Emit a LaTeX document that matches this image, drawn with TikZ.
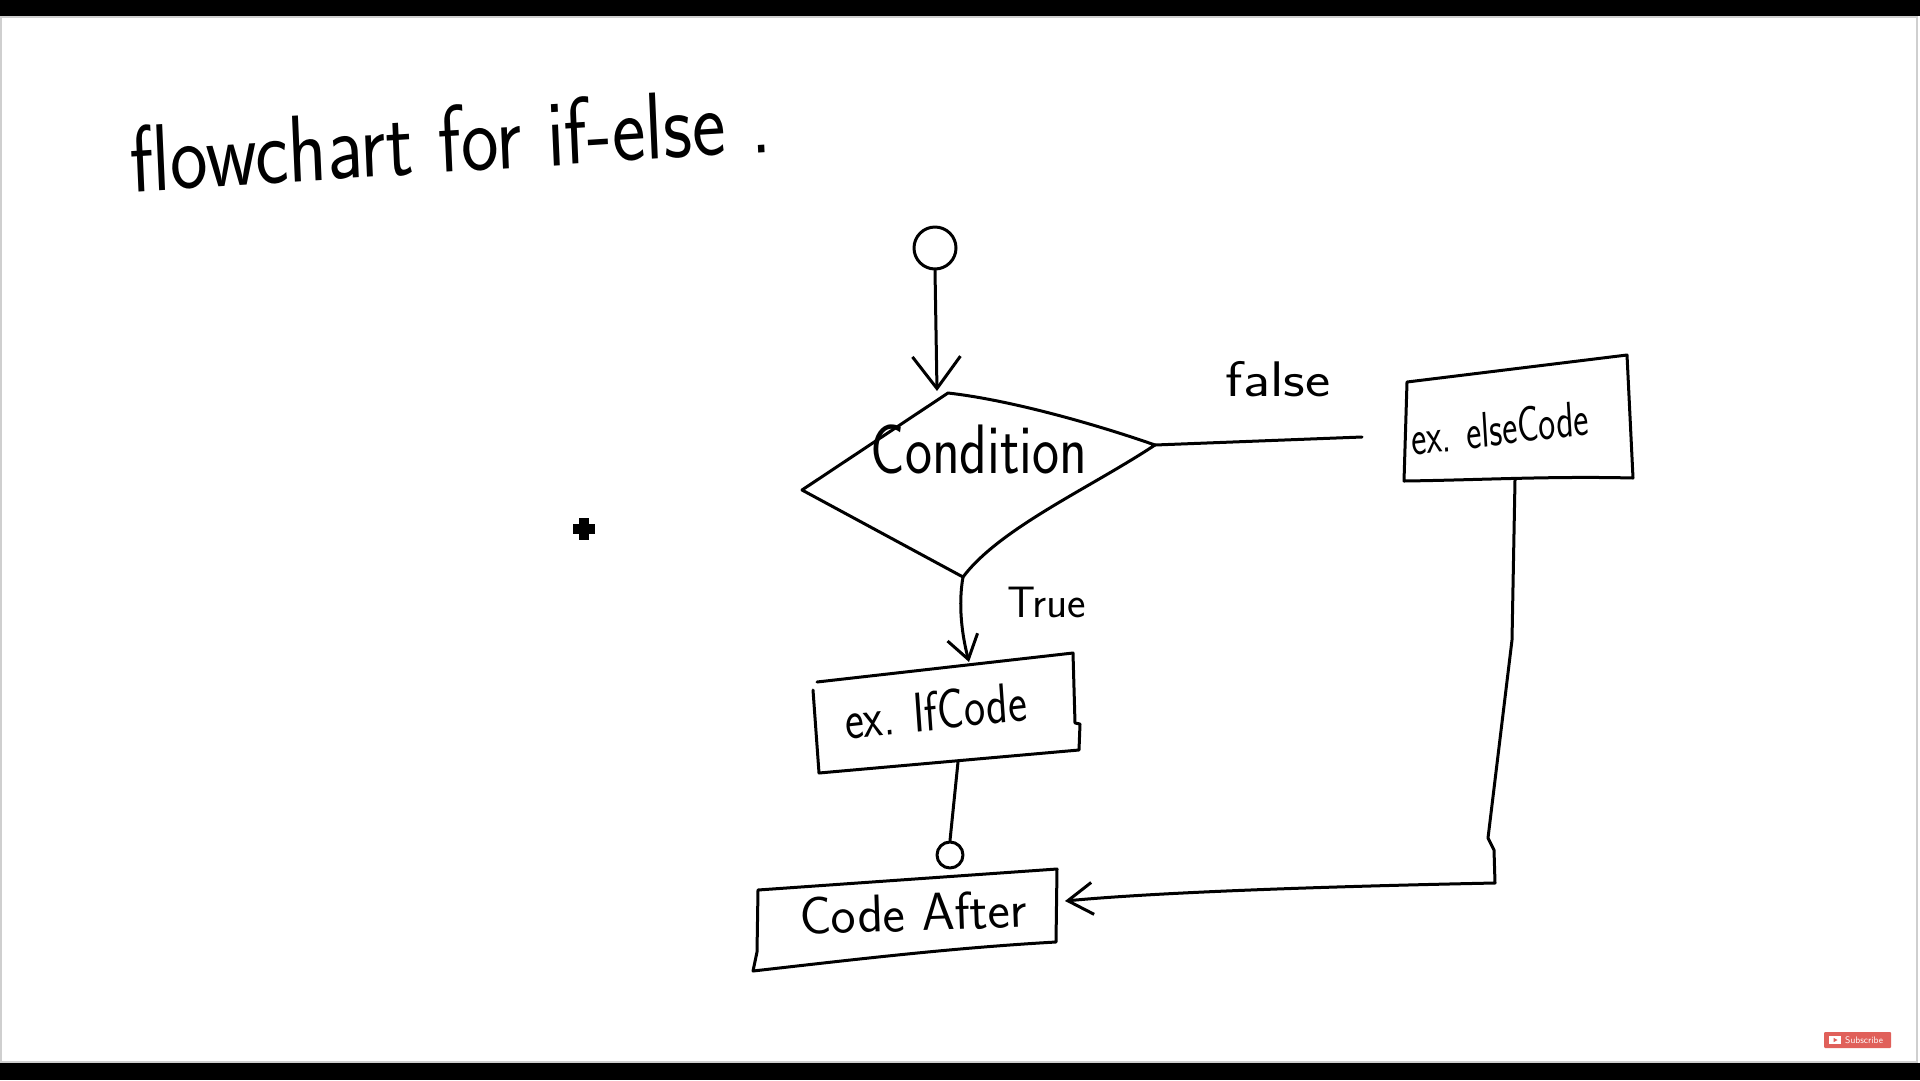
\documentclass[tikz,border=0pt]{standalone}
\usepackage{fontspec}
\usetikzlibrary{arrows.meta}
\definecolor{ytred}{HTML}{E0605A}
\definecolor{bordergray}{HTML}{CFCFCF}
\tikzset{
  ink/.style={line width=3pt, line cap=round, line join=round, draw=black},
  hand/.style={inner sep=0pt, anchor=base, text=black},
  barbT/.style={-{Straight Barb[length=32pt,width=48pt]}},
  barbS/.style={-{Straight Barb[length=23pt,width=31pt]}},
  barbA/.style={-{Straight Barb[length=25pt,width=32pt]}},
  connector/.style={ink, draw, circle, inner sep=0pt},
}
\newcommand{\hf}[1]{\sffamily\fontsize{#1}{#1}\selectfont}
\begin{document}
\begin{tikzpicture}[x=1pt,y=-1pt]
\useasboundingbox (0,0) rectangle (1920,1080);
\fill[white] (0,0) rectangle (1920,1080);
% video frame bars
\fill[black] (0,0) rectangle (1920,16);
\fill[black] (0,1063) rectangle (1920,1080);
\draw[bordergray, line width=1.5pt] (1,16.8) -- (1917,16.8) -- (1917,1062) -- (1,1062) -- cycle;

% title
\node[hand, font=\hf{95}, xscale=0.84, rotate=3] (title) at (452,172) {flowchart for if-else .};

% start circle
\node[connector, minimum size=42pt] (start) at (935,248) {};

% diamond
\coordinate (dT) at (948,393);
\coordinate (dR) at (1155,445);
\coordinate (dB) at (963,577);
\coordinate (dL) at (802,490);
\coordinate (condIn) at (937,391);
\draw[ink] (dL) -- (dT) .. controls (1010,400) and (1095,424) .. (dR)
  .. controls (1090,488) and (1000,528) .. (dB) -- cycle;
\node[hand, font=\hf{70}, xscale=0.82] (cond) at (979,473) {Condition};
\draw[ink, barbT] (start.south) -- (condIn);

% false branch
\coordinate (falseEnd) at (1362,437);
\draw[ink] (dR) -- (falseEnd);
\node[hand, font=\hf{50}, xscale=1.2] (flabel) at (1278,396) {false};

% else box
\coordinate (eTL) at (1407,382);
\coordinate (eTR) at (1627,355);
\coordinate (eBR) at (1633,478);
\coordinate (eBL) at (1404,481);
\draw[ink] (eTL) -- (eTR) -- (eBR) .. controls (1550,476) and (1480,480) .. (eBL) -- cycle;
\node[hand, font=\hf{50}, xscale=0.72, rotate=5] (elsetxt) at (1501,445) {ex. elseCode};

% true branch
\coordinate (ifIn) at (969,662);
\draw[ink, barbS] (dB) .. controls (958,605) and (962,635) .. (ifIn);
\node[hand, font=\hf{44}] (tlabel) at (1047,617) {True};

% if box
\coordinate (iTL) at (817,682);
\coordinate (iTR) at (1073,653);
\coordinate (iJ1) at (1075,723);
\coordinate (iJ2) at (1080,724);
\coordinate (iBR) at (1079,750);
\coordinate (iBL) at (819,773);
\coordinate (iLT) at (813,690);
\draw[ink] (iTL) -- (iTR) -- (iJ1) -- (iJ2) -- (iBR) -- (iBL) -- (iLT);
\node[hand, font=\hf{56}, xscale=0.8, rotate=5] (iftxt) at (937,730) {ex. IfCode};

% connector circle after if box
\coordinate (iOut) at (958,762);
\node[connector, minimum size=26pt] (conn) at (950,855) {};
\draw[ink] (iOut) -- (conn.north);

% code after box
\coordinate (cTL) at (758,890);
\coordinate (cTR) at (1057,869);
\coordinate (cBR) at (1056,942);
\coordinate (cBL) at (753,971);
\coordinate (cLL) at (757,952);
\draw[ink] (cTL) -- (cTR) -- (cBR) .. controls (950,948) and (850,960) .. (cBL) -- (cLL) -- cycle;
\node[hand, font=\hf{53}, rotate=2] (catxt) at (914,931) {Code After};

% else route back to code after
\coordinate (eOut) at (1515,480);
\coordinate (k1) at (1512,640);
\coordinate (k2) at (1488,838);
\coordinate (k3) at (1494,850);
\coordinate (k4) at (1495,883);
\coordinate (caIn) at (1065,901);
\draw[ink, barbA] (eOut) -- (k1) -- (k2) -- (k3) -- (k4)
  .. controls (1300,887) and (1150,893) .. (caIn);

% cursor
\fill[black] (573,524) rectangle (595,534);
\fill[black] (579,518) rectangle (589,540);

% subscribe button
\node[fill=ytred, minimum width=67pt, minimum height=16pt, inner sep=0pt, rounded corners=1pt] (sub) at (1857.5,1040) {};
\fill[white] (1829,1036) rectangle (1841,1044);
\fill[ytred] (1833.5,1037.8) -- (1833.5,1042.2) -- (1837.5,1040) -- cycle;
\node[text=white, font=\hf{9.5}, anchor=west, inner sep=0pt] (subtxt) at (1845,1040) {Subscribe};
\end{tikzpicture}
\end{document}
